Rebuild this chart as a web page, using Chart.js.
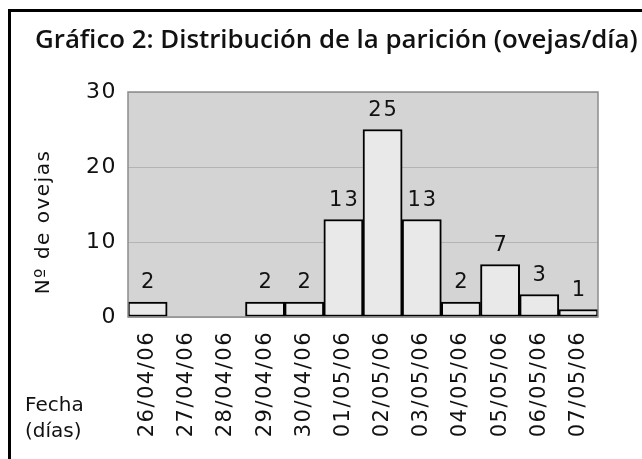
<!DOCTYPE html>
<html>
<head>
<meta charset="utf-8">
<script src="https://cdn.jsdelivr.net/npm/chart.js@4"></script>
<style>
    html, body { margin: 0; padding: 0; background: #fff; overflow: hidden; }
    #frame { position: absolute; left: 8px; top: 9px; width: 700px; height: 520px; border: 3px solid #000; }
    #wrap { position: absolute; left: 0; top: 0; width: 642px; height: 459px; }
</style>
</head>
<body>
<div id="frame"></div>
<div id="wrap"><canvas id="myChart"></canvas></div>
<script>
const fechas = ['26/04/06', '27/04/06', '28/04/06', '29/04/06', '30/04/06', '01/05/06',
    '02/05/06', '03/05/06', '04/05/06', '05/05/06', '06/05/06', '07/05/06'];
const ovejas = [2, 0, 0, 2, 2, 13, 25, 13, 2, 7, 3, 1];
const yTicks = [0, 10, 20, 30];
const tituloGrafico = 'Gráfico 2: Distribución de la parición (ovejas/día)';
const tituloY = 'Nº de ovejas';
const tituloX = ['Fecha', '(días)'];

const FONT = '"DejaVu Sans", sans-serif';
const SPACING = '1.5px';

// grey plot background + letter spacing for the axis text
const fondo = {
    id: 'fondo',
    beforeUpdate(chart) {
        chart.ctx.letterSpacing = SPACING;
    },
    beforeDraw(chart) {
        const { ctx, chartArea: a } = chart;
        ctx.letterSpacing = SPACING;
        ctx.save();
        ctx.fillStyle = '#d4d4d4';
        ctx.fillRect(a.left, a.top, a.right - a.left, a.bottom - a.top);
        ctx.restore();
    },
    afterDatasetsDraw(chart) {
        const { ctx, chartArea: a } = chart;
        ctx.save();
        ctx.strokeStyle = '#8c8c8c';
        ctx.lineWidth = 1.5;
        ctx.strokeRect(a.left, a.top, a.right - a.left, a.bottom - a.top);
        ctx.restore();
    }
};

// value labels above the bars
const valores = {
    id: 'valores',
    afterDatasetsDraw(chart) {
        const ctx = chart.ctx;
        const meta = chart.getDatasetMeta(0);
        ctx.save();
        ctx.font = '21px ' + FONT;
        ctx.letterSpacing = '2px';
        ctx.fillStyle = '#111';
        ctx.textAlign = 'center';
        ctx.textBaseline = 'alphabetic';
        meta.data.forEach((bar, i) => {
            if (!ovejas[i]) return;
            ctx.fillText(String(ovejas[i]), bar.x + 1, bar.y - 14);
        });
        ctx.restore();
    }
};

// title, y title and the "Fecha (días)" note
const textos = {
    id: 'textos',
    afterDraw(chart) {
        const ctx = chart.ctx;
        ctx.save();
        ctx.fillStyle = '#111';
        ctx.letterSpacing = '0px';
        ctx.font = '600 20px "Open Sans", sans-serif';
        const w = ctx.measureText(tituloGrafico).width;
        ctx.font = '600 ' + (20 * 603 / w).toFixed(2) + 'px "Open Sans", sans-serif';
        ctx.textAlign = 'left';
        ctx.textBaseline = 'alphabetic';
        ctx.fillText(tituloGrafico, 35, 48);

        ctx.font = '20px ' + FONT;
        tituloX.forEach((t, i) => ctx.fillText(t, 25, 411 + i * 26));

        ctx.translate(44, 222);
        ctx.rotate(-Math.PI / 2);
        ctx.font = '20px ' + FONT;
        ctx.letterSpacing = '1.5px';
        ctx.textAlign = 'center';
        ctx.textBaseline = 'middle';
        ctx.fillText(tituloY, 0, 0);
        ctx.restore();
    }
};

const ctx = document.getElementById('myChart').getContext('2d');
const chart = new Chart(ctx, {
    type: 'bar',
    data: {
        labels: fechas,
        datasets: [{
            data: ovejas,
            backgroundColor: '#e9e9e9',
            borderColor: '#000',
            borderWidth: 2,
            borderSkipped: false,
            barPercentage: 1,
            categoryPercentage: 1
        }]
    },
    options: {
        responsive: true,
        maintainAspectRatio: false,
        animation: false,
        layout: { padding: { left: 10, right: 44, top: 92, bottom: 10 } },
        plugins: {
            legend: { display: false },
            title: { display: false },
            tooltip: { enabled: false }
        },
        scales: {
            x: {
                grid: { display: false, drawTicks: false },
                border: { display: false },
                ticks: {
                    autoSkip: false,
                    minRotation: 90,
                    maxRotation: 90,
                    padding: 14,
                    color: '#111',
                    font: { family: FONT, size: 21 }
                },
                afterFit(scale) { scale.height = 132; }
            },
            y: {
                min: yTicks[0],
                max: yTicks[yTicks.length - 1],
                grid: { color: '#b4b4b4', lineWidth: 1, drawTicks: false },
                border: { display: false },
                ticks: {
                    stepSize: yTicks[1] - yTicks[0],
                    padding: 11,
                    color: '#111',
                    font: { family: FONT, size: 22 }
                },
                afterFit(scale) { scale.width = 118; }
            }
        }
    },
    plugins: [fondo, valores, textos]
});
</script>
</body>
</html>
